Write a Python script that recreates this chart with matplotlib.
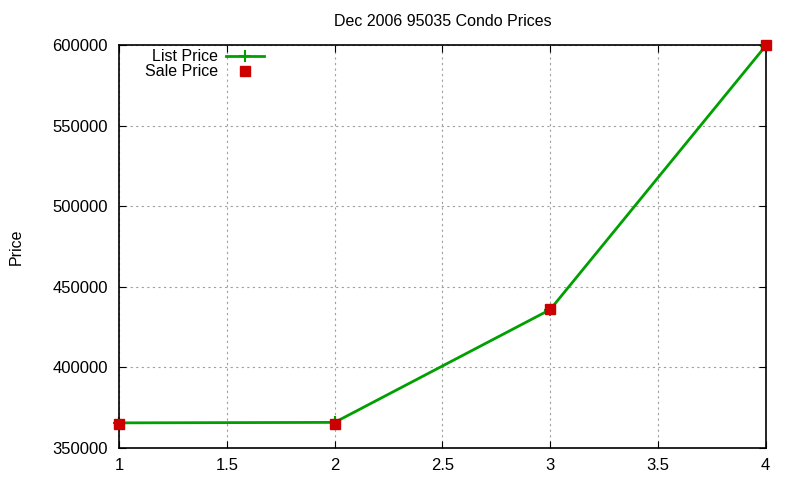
import matplotlib
matplotlib.use('Agg')
import matplotlib.pyplot as plt

plt.rcParams['font.family'] = ['Liberation Sans', 'DejaVu Sans']

listings = [1, 2, 3, 4]
list_price = [365500, 365800, 435800, 599500]
sale_price = [365000, 365000, 436000, 600000]

fig = plt.figure(figsize=(8, 4.8), dpi=100)
ax = fig.add_axes([0.149, 0.067, 0.808, 0.839])

ax.plot(listings, list_price, color='#00a000', lw=2, marker='+', ms=9, mew=1.5,
        label='List Price', clip_on=False)
ax.plot(listings, sale_price, ls='none', marker='s', ms=7, color='#cc0000',
        label='Sale Price', clip_on=False, zorder=3)

ax.set_xlim(1, 4)
ax.set_ylim(350000, 600000)
ax.set_xticks([1, 1.5, 2, 2.5, 3, 3.5, 4])
ax.set_xticklabels(['1', '1.5', '2', '2.5', '3', '3.5', '4'])
ax.set_yticks(range(350000, 600001, 50000))
ax.tick_params(direction='in', top=True, right=True, labelsize=12, length=5)
ax.tick_params(axis='y', pad=8)
ax.tick_params(axis='x', pad=7)
ax.grid(True, color='#a0a0a0', ls=(0, (2, 3)), lw=0.8)
for s in ax.spines.values():
    s.set_linewidth(1.2)

ax.set_title('Dec 2006 95035 Condo Prices', fontsize=11.5, pad=14)
ax.set_ylabel('Price', fontsize=11.5)
ax.yaxis.set_label_coords(-0.148, 0.5)

ax.legend(loc='upper left', bbox_to_anchor=(0.022, 1.017), frameon=False, markerfirst=False,
          fontsize=11.5, handlelength=2.4, handletextpad=0.5, labelspacing=0.0,
          borderaxespad=0.3)

fig.savefig('out.png', dpi=100)
